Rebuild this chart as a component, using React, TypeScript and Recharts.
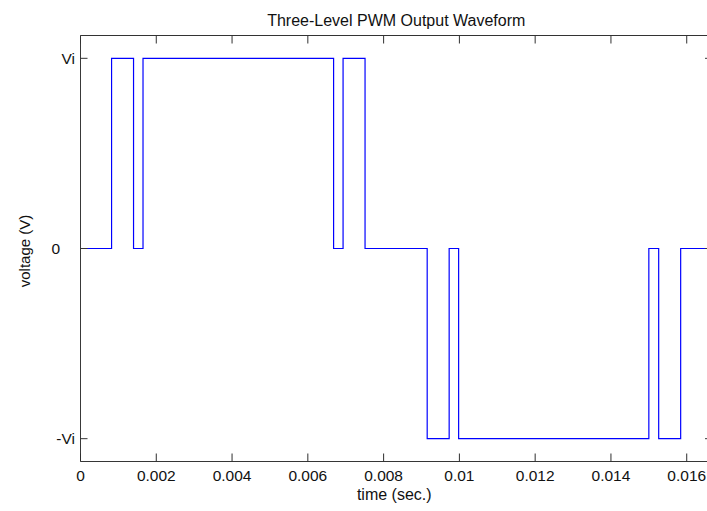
import React from "react";
import { LineChart, Line, XAxis, YAxis } from "recharts";

// switching instants (s) and the output level that starts at each one
const TIMES = [0, 0.00082, 0.0014, 0.00165, 0.00668, 0.00693, 0.00751, 0.00915, 0.00973, 0.00998, 0.015, 0.01526, 0.01584, 0.016667];
const LEVELS = [0, 1, 0, 1, 0, 1, 0, -1, 0, -1, 0, -1, 0, 0];

const X_TICKS = [0, 0.002, 0.004, 0.006, 0.008, 0.01, 0.012, 0.014, 0.016];
const X_TICK_LABELS = ["0", "0.002", "0.004", "0.006", "0.008", "0.01", "0.012", "0.014", "0.016"];
const Y_TICKS = [-1, 0, 1];
const Y_TICK_LABELS = ["-Vi", "0", "Vi"];

const FONT = "'Liberation Sans', Arial, sans-serif";
const TXT = "#111";

const rows = TIMES.map((t, i) => ({ t, v: LEVELS[i] }));

// matlab style: tick marks point into the plot box
function BottomTick({ x, y, payload }: any) {
  const label = X_TICK_LABELS[X_TICKS.indexOf(payload.value)] ?? String(payload.value);
  return (
    <g>
      <line x1={x} x2={x} y1={y} y2={y - 8} stroke="#2e2e2e" strokeWidth={1} />
      <text x={x} y={y + 19.5} textAnchor="middle" fontSize={15.5} fontFamily={FONT} fill={TXT}>
        {label}
      </text>
    </g>
  );
}

function TopTick({ x, y }: any) {
  return <line x1={x} x2={x} y1={y} y2={y + 8} stroke="#313131" strokeWidth={1} />;
}

function LeftTick({ x, y, payload }: any) {
  const label = Y_TICK_LABELS[Y_TICKS.indexOf(payload.value)] ?? String(payload.value);
  return (
    <g>
      <line x1={x} x2={x + 7} y1={y} y2={y} stroke="#343434" strokeWidth={1} />
      <text x={x - 5.5} y={y + 5.5} dx={label === "0" ? -15 : 0} textAnchor="end" fontSize={15.5} fontFamily={FONT} fill={TXT}>
        {label}
      </text>
    </g>
  );
}

function RightTick({ x, y }: any) {
  return <line x1={x} x2={x - 7} y1={y} y2={y} stroke="#373737" strokeWidth={1} />;
}

function TitleLabel({ viewBox }: any) {
  return (
    <text x={viewBox.x + viewBox.width / 2} y={viewBox.y - 8.5} textAnchor="middle" fontSize={16} fontFamily={FONT} fill={TXT}>
      Three-Level PWM Output Waveform
    </text>
  );
}

function XLabel({ viewBox }: any) {
  return (
    <text x={viewBox.x + viewBox.width / 2 - 2} y={viewBox.y + 38} textAnchor="middle" fontSize={16} fontFamily={FONT} fill={TXT}>
      time (sec.)
    </text>
  );
}

function YLabel({ viewBox }: any) {
  const cx = 29.5;
  const cy = viewBox.y + viewBox.height / 2 + 2.5;
  return (
    <text x={cx} y={cy} textAnchor="middle" fontSize={15} fontFamily={FONT} fill={TXT} transform={`rotate(-90 ${cx} ${cy})`}>
      voltage (V)
    </text>
  );
}

export default function App() {
  return (
    <div style={{ position: "absolute", left: 0, top: 0, width: 707, height: 511, overflow: "hidden", background: "#fff" }}>
      <LineChart width={720} height={511} data={rows} margin={{ top: 34.5, right: 7, bottom: 0, left: 0.5 }}>
        <XAxis xAxisId="b" dataKey="t" type="number" domain={[0, 0.016667]} ticks={X_TICKS}
          height={49.5} tickSize={0} tickMargin={0} tickLine={false} stroke="#363636" tick={<BottomTick />}
          label={<XLabel />} allowDataOverflow />
        <XAxis xAxisId="top" orientation="top" dataKey="t" type="number" domain={[0, 0.016667]} ticks={X_TICKS}
          height={1} tickSize={0} tickMargin={0} tickLine={false} stroke="#333333" tick={<TopTick />}
          label={<TitleLabel />} allowDataOverflow />
        <YAxis yAxisId="l" type="number" domain={[-1.12, 1.12]} ticks={Y_TICKS}
          width={80} tickSize={0} tickMargin={0} tickLine={false} stroke="#393939" tick={<LeftTick />}
          label={<YLabel />} allowDataOverflow />
        <YAxis yAxisId="r" orientation="right" type="number" domain={[-1.12, 1.12]} ticks={Y_TICKS}
          width={1} tickSize={0} tickMargin={0} tickLine={false} stroke="#3c3c3c" tick={<RightTick />} allowDataOverflow />
        {/* invisible copy so the top/right frame axes get drawn */}
        <Line xAxisId="top" yAxisId="r" type="stepAfter" dataKey="v" stroke="none" dot={false}
          activeDot={false} isAnimationActive={false} />
        <Line xAxisId="b" yAxisId="l" type="stepAfter" dataKey="v" stroke="#0000ff" strokeWidth={1.2}
          dot={false} isAnimationActive={false} />
      </LineChart>
    </div>
  );
}
